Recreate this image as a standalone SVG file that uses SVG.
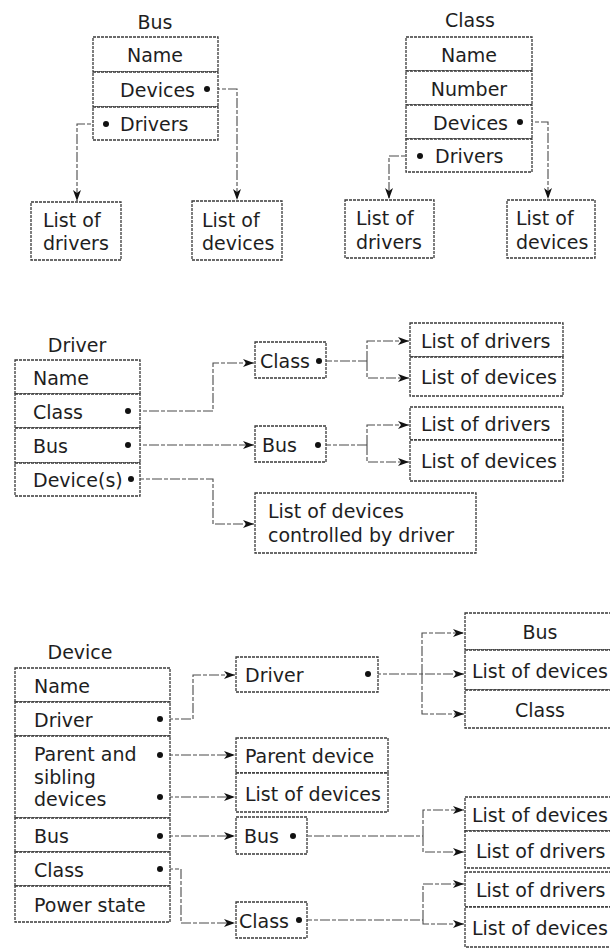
<svg xmlns="http://www.w3.org/2000/svg" width="610" height="951" viewBox="0 0 610 951">
<defs>
<style>
.bx{fill:#fff;stroke:#3a3a3a;stroke-width:1.3;stroke-dasharray:3 1}
.t{font-family:"DejaVu Sans","Open Sans",sans-serif;font-size:19px;fill:#1e1e1e}
.m{text-anchor:middle}
.e{text-anchor:end}
.c{fill:none;stroke:#4a4a4a;stroke-width:1.1;stroke-dasharray:10 2 4 2}
.d{fill:#111}
</style>
<marker id="ah" markerUnits="userSpaceOnUse" markerWidth="12" markerHeight="9" refX="11" refY="4.5" orient="auto">
<path d="M0,0.5 L11,4.5 L0,8.5 L3,4.5 z" fill="#111"/>
</marker>
</defs>
<rect width="610" height="951" fill="#fff"/>

<g id="connectors">
<path class="c" d="M210,89 H237 V200" marker-end="url(#ah)"/>
<path class="c" d="M103,124 H77 V201" marker-end="url(#ah)"/>
<path class="c" d="M523,122 H548 V199" marker-end="url(#ah)"/>
<path class="c" d="M417,156 H389 V199" marker-end="url(#ah)"/>
<path class="c" d="M131,411 H213 V363 H254" marker-end="url(#ah)"/>
<path class="c" d="M131,445 H254" marker-end="url(#ah)"/>
<path class="c" d="M134,479 H213 V524 H254" marker-end="url(#ah)"/>
<path class="c" d="M322,361 H367"/>
<path class="c" d="M367,361 V341 H409" marker-end="url(#ah)"/>
<path class="c" d="M367,361 V378 H409" marker-end="url(#ah)"/>
<path class="c" d="M321,445 H367"/>
<path class="c" d="M367,445 V425 H409" marker-end="url(#ah)"/>
<path class="c" d="M367,445 V462 H409" marker-end="url(#ah)"/>
<path class="c" d="M163,719 H193 V675 H235" marker-end="url(#ah)"/>
<path class="c" d="M371,674 H464" marker-end="url(#ah)"/>
<path class="c" d="M422,674 V633 H464" marker-end="url(#ah)"/>
<path class="c" d="M422,674 V714 H464" marker-end="url(#ah)"/>
<path class="c" d="M163,755 H235" marker-end="url(#ah)"/>
<path class="c" d="M163,797 H235" marker-end="url(#ah)"/>
<path class="c" d="M163,836 H235" marker-end="url(#ah)"/>
<path class="c" d="M296,836 H423"/>
<path class="c" d="M423,836 V810 H464" marker-end="url(#ah)"/>
<path class="c" d="M423,836 V852 H464" marker-end="url(#ah)"/>
<path class="c" d="M163,869 H181 V923 H235" marker-end="url(#ah)"/>
<path class="c" d="M302,920 H423"/>
<path class="c" d="M423,920 V884 H464" marker-end="url(#ah)"/>
<path class="c" d="M423,920 V924 H464" marker-end="url(#ah)"/>
</g>

<g id="bus">
<text class="t m" x="155" y="29">Bus</text>
<rect class="bx" x="93" y="37" width="125" height="35"/>
<rect class="bx" x="93" y="72" width="125" height="35"/>
<rect class="bx" x="93" y="107" width="125" height="33"/>
<text class="t m" x="155" y="62">Name</text>
<text class="t e" x="195" y="97">Devices</text>
<circle class="d" cx="207" cy="89" r="3"/>
<text class="t" x="120" y="131">Drivers</text>
<circle class="d" cx="106" cy="124" r="3"/>
</g>
<g id="bus-drivers">
<rect class="bx" x="31" y="202" width="90" height="58"/>
<text class="t" x="43" y="227">List of<tspan x="43" dy="23">drivers</tspan></text>
</g>
<g id="bus-devices">
<rect class="bx" x="192" y="201" width="90" height="59"/>
<text class="t" x="202" y="227">List of<tspan x="202" dy="23">devices</tspan></text>
</g>

<g id="class">
<text class="t m" x="470" y="27">Class</text>
<rect class="bx" x="406" y="37" width="126" height="34"/>
<rect class="bx" x="406" y="71" width="126" height="34"/>
<rect class="bx" x="406" y="105" width="126" height="34"/>
<rect class="bx" x="406" y="139" width="126" height="33"/>
<text class="t m" x="469" y="62">Name</text>
<text class="t m" x="469" y="96">Number</text>
<text class="t e" x="508" y="130">Devices</text>
<circle class="d" cx="520" cy="122" r="3"/>
<text class="t" x="435" y="163">Drivers</text>
<circle class="d" cx="420" cy="156" r="3"/>
</g>
<g id="class-drivers">
<rect class="bx" x="345" y="200" width="89" height="58"/>
<text class="t" x="356" y="225">List of<tspan x="356" dy="24">drivers</tspan></text>
</g>
<g id="class-devices">
<rect class="bx" x="507" y="200" width="88" height="58"/>
<text class="t" x="516" y="225">List of<tspan x="516" dy="24">devices</tspan></text>
</g>

<g id="driver">
<text class="t m" x="77" y="352">Driver</text>
<rect class="bx" x="15" y="360" width="125" height="34"/>
<rect class="bx" x="15" y="394" width="125" height="34"/>
<rect class="bx" x="15" y="428" width="125" height="35"/>
<rect class="bx" x="15" y="463" width="125" height="33"/>
<text class="t" x="33" y="385">Name</text>
<text class="t" x="33" y="419">Class</text>
<circle class="d" cx="128" cy="411" r="3"/>
<text class="t" x="33" y="453">Bus</text>
<circle class="d" cx="128" cy="445" r="3"/>
<text class="t" x="33" y="487">Device(s)</text>
<circle class="d" cx="131" cy="479" r="3"/>
</g>
<g id="driver-class">
<rect class="bx" x="255" y="342" width="71" height="36"/>
<text class="t" x="260" y="368">Class</text>
<circle class="d" cx="319" cy="361" r="3"/>
</g>
<g id="driver-class-drivers">
<rect class="bx" x="410" y="323" width="153" height="34"/>
<text class="t" x="421" y="348">List of drivers</text>
</g>
<g id="driver-class-devices">
<rect class="bx" x="410" y="357" width="153" height="39"/>
<text class="t" x="421" y="384">List of devices</text>
</g>
<g id="driver-bus">
<rect class="bx" x="255" y="426" width="71" height="36"/>
<text class="t" x="262" y="452">Bus</text>
<circle class="d" cx="318" cy="445" r="3"/>
</g>
<g id="driver-bus-drivers">
<rect class="bx" x="410" y="407" width="153" height="33"/>
<text class="t" x="421" y="431">List of drivers</text>
</g>
<g id="driver-bus-devices">
<rect class="bx" x="410" y="440" width="153" height="41"/>
<text class="t" x="421" y="468">List of devices</text>
</g>
<g id="driver-devices">
<rect class="bx" x="255" y="493" width="221" height="60"/>
<text class="t" x="268" y="518">List of devices<tspan x="268" dy="24">controlled by driver</tspan></text>
</g>

<g id="device">
<text class="t m" x="80" y="659">Device</text>
<rect class="bx" x="15" y="668" width="155" height="34"/>
<rect class="bx" x="15" y="702" width="155" height="34"/>
<rect class="bx" x="15" y="736" width="155" height="82"/>
<rect class="bx" x="15" y="818" width="155" height="34"/>
<rect class="bx" x="15" y="852" width="155" height="34"/>
<rect class="bx" x="15" y="886" width="155" height="36"/>
<text class="t" x="34" y="693">Name</text>
<text class="t" x="34" y="727">Driver</text>
<circle class="d" cx="160" cy="719" r="3"/>
<text class="t" x="34" y="761">Parent and<tspan x="34" dy="22.5">sibling</tspan><tspan x="34" dy="22.5">devices</tspan></text>
<circle class="d" cx="160" cy="755" r="3"/>
<circle class="d" cx="160" cy="797" r="3"/>
<text class="t" x="34" y="843">Bus</text>
<circle class="d" cx="160" cy="836" r="3"/>
<text class="t" x="34" y="877">Class</text>
<circle class="d" cx="160" cy="869" r="3"/>
<text class="t" x="34" y="912">Power state</text>
</g>
<g id="device-driver">
<rect class="bx" x="236" y="657" width="142" height="35"/>
<text class="t" x="245" y="682">Driver</text>
<circle class="d" cx="368" cy="674" r="3"/>
</g>
<g id="device-driver-bus">
<rect class="bx" x="465" y="613" width="150" height="37"/>
<text class="t m" x="540" y="639">Bus</text>
</g>
<g id="device-driver-devices">
<rect class="bx" x="465" y="650" width="150" height="40"/>
<text class="t" x="472" y="678">List of devices</text>
</g>
<g id="device-driver-class">
<rect class="bx" x="465" y="690" width="150" height="38"/>
<text class="t m" x="540" y="717">Class</text>
</g>
<g id="device-parent">
<rect class="bx" x="236" y="738" width="152" height="35"/>
<text class="t" x="245" y="763">Parent device</text>
</g>
<g id="device-siblings">
<rect class="bx" x="236" y="773" width="152" height="39"/>
<text class="t" x="245" y="801">List of devices</text>
</g>
<g id="device-bus">
<rect class="bx" x="236" y="817" width="71" height="37"/>
<text class="t" x="244" y="843">Bus</text>
<circle class="d" cx="293" cy="836" r="3"/>
</g>
<g id="device-bus-devices">
<rect class="bx" x="465" y="797" width="150" height="34"/>
<text class="t" x="472" y="822">List of devices</text>
</g>
<g id="device-bus-drivers">
<rect class="bx" x="465" y="831" width="150" height="37"/>
<text class="t" x="476" y="858">List of drivers</text>
</g>
<g id="device-class">
<rect class="bx" x="236" y="902" width="71" height="36"/>
<text class="t" x="239" y="928">Class</text>
<circle class="d" cx="299" cy="920" r="3"/>
</g>
<g id="device-class-drivers">
<rect class="bx" x="465" y="872" width="150" height="35"/>
<text class="t" x="476" y="897">List of drivers</text>
</g>
<g id="device-class-devices">
<rect class="bx" x="465" y="907" width="150" height="40"/>
<text class="t" x="472" y="935">List of devices</text>
</g>
</svg>
